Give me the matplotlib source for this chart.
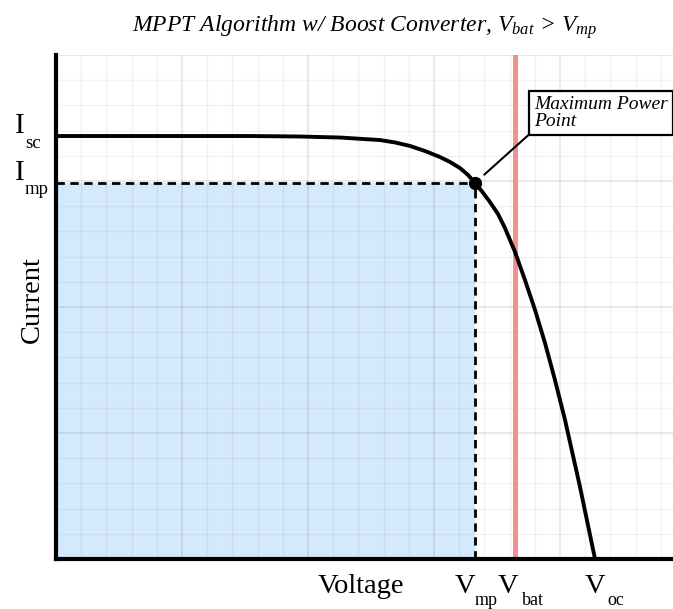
import matplotlib
matplotlib.use('Agg')
import matplotlib.pyplot as plt
from matplotlib.ticker import MultipleLocator
from matplotlib.transforms import ScaledTranslation

plt.rcParams['font.family'] = ['Liberation Serif', 'DejaVu Serif']
plt.rcParams['mathtext.fontset'] = 'custom'
plt.rcParams['mathtext.rm'] = 'Liberation Serif'
plt.rcParams['mathtext.it'] = 'Liberation Serif:italic'
plt.rcParams['mathtext.bf'] = 'Liberation Serif:bold'

# I-V curve (grid units)
voltage = [0.0, 1.540, 1.937, 2.254, 2.571, 2.690, 2.810, 2.929, 3.048, 3.127,
           3.206, 3.270, 3.325, 3.381, 3.444, 3.508, 3.563, 3.643, 3.722, 3.802,
           3.881, 3.960, 4.040, 4.159, 4.278]
current = [3.357, 3.357, 3.353, 3.345, 3.325, 3.306, 3.278, 3.238, 3.190, 3.151,
           3.103, 3.048, 2.984, 2.917, 2.833, 2.738, 2.627, 2.437, 2.214, 1.976,
           1.714, 1.421, 1.103, 0.571, 0.0]

V_mp, I_mp = 3.325, 2.984
I_sc = 3.357
V_bat = 3.643
V_oc = 4.278

x_ticks = [V_mp, V_bat, V_oc]
x_tick_main = ['V', 'V', 'V']
x_tick_sub = ['mp', 'bat', 'oc']
y_ticks = [I_mp, I_sc]
y_tick_main = ['I', 'I']
y_tick_sub = ['mp', 'sc']

title = 'MPPT Algorithm w/ Boost Converter, $V_{bat}$ > $V_{mp}$'
annot_text = 'Maximum Power\nPoint'

W, H = 673, 609
fig = plt.figure(figsize=(W / 100, H / 100), dpi=100)
rect = [56 / W, (H - 559) / H, 617 / W, 504 / H]
xlim = (0, 617 / 126)
ylim = (0, 4.0)


def off(dx, dy):
    """offset in pixels (figure is 100 dpi)"""
    return ScaledTranslation(dx / 100, dy / 100, fig.dpi_scale_trans)


# background grid axes
axg = fig.add_axes(rect)
axg.set_xlim(*xlim)
axg.set_ylim(*ylim)
axg.xaxis.set_major_locator(MultipleLocator(1))
axg.yaxis.set_major_locator(MultipleLocator(1))
axg.xaxis.set_minor_locator(MultipleLocator(0.2))
axg.yaxis.set_minor_locator(MultipleLocator(0.2))
axg.set_axisbelow(True)
axg.grid(which='major', color='black', alpha=0.09, lw=1.3)
axg.grid(which='minor', color='black', alpha=0.05, lw=1.0)
axg.tick_params(which='both', length=0, labelbottom=False, labelleft=False)
for s in axg.spines.values():
    s.set_visible(False)
axg.fill_between([0, V_mp], [0, 0], [I_mp, I_mp], color='#d5e9fd', lw=0, zorder=0.3)

# main axes
ax = fig.add_axes(rect)
ax.set_facecolor('none')
ax.set_xlim(*xlim)
ax.set_ylim(*ylim)

ax.axvline(V_bat, color='#f29090', lw=3.6, zorder=2)
ax.plot([0, V_mp], [I_mp, I_mp], color='black', lw=2, dashes=(3, 2), zorder=3)
ax.plot([V_mp, V_mp], [0, I_mp], color='black', lw=2, dashes=(3, 2), zorder=3)
ax.plot(voltage, current, color='black', lw=2.8, solid_capstyle='butt',
        solid_joinstyle='round', zorder=4)
ax.plot([V_mp], [I_mp], 'o', color='black', ms=8.5, zorder=5)

ax.annotate(annot_text, xy=(V_mp, I_mp), xytext=(3.794, 3.405),
            ha='left', va='bottom', fontsize=14, fontstyle='italic',
            linespacing=1.0, annotation_clip=False,
            bbox=dict(boxstyle='square,pad=0.25', fc='white', ec='black', lw=1.6),
            arrowprops=dict(arrowstyle='-', color='black', lw=1.5,
                            relpos=(0, 0), shrinkA=0, shrinkB=9))

ax.set_xticks(x_ticks)
ax.set_xticklabels([''] * len(x_ticks))
ax.set_yticks(y_ticks)
ax.set_yticklabels([''] * len(y_ticks))
ax.tick_params(length=0)

# x tick labels: main letter and a lowered subscript
main_dx = [0, 3, 10]
sub_dx = [0, 7, 12]
xt = ax.get_xaxis_transform()
for v, m, s, mdx, sdx in zip(x_ticks, x_tick_main, x_tick_sub, main_dx, sub_dx):
    ax.text(v, 0, m, transform=xt + off(mdx, -34), ha='right', va='baseline',
            fontsize=20.5, clip_on=False)
    ax.text(v, 0, s, transform=xt + off(sdx, -46), ha='left', va='baseline',
            fontsize=13, clip_on=False)

# y tick labels
yt = ax.get_yaxis_transform()
sub_dy = [-11, -12]
for v, m, s, sdy in zip(y_ticks, y_tick_main, y_tick_sub, sub_dy):
    ax.text(0, v, m, transform=yt + off(-41, 3), ha='left', va='baseline',
            fontsize=21, clip_on=False)
    ax.text(0, v, s, transform=yt + off(-31, sdy), ha='left', va='baseline',
            fontsize=13.5, clip_on=False)

for side in ('top', 'right'):
    ax.spines[side].set_visible(False)
for side in ('left', 'bottom'):
    ax.spines[side].set_linewidth(3)
    ax.spines[side].set_color('black')

ax.set_xlabel('Voltage', fontsize=20.5, va='baseline')
ax.xaxis.set_label_coords(0.495, -34 / 504)
ax.set_ylabel('Current', fontsize=20.5)
ax.yaxis.set_label_coords(-0.018, 0.514)

fig.text(365 / W, 1 - 27 / H, title, ha='center', va='center',
         fontsize=17, fontstyle='italic')

fig.savefig('out.png', dpi=100)
